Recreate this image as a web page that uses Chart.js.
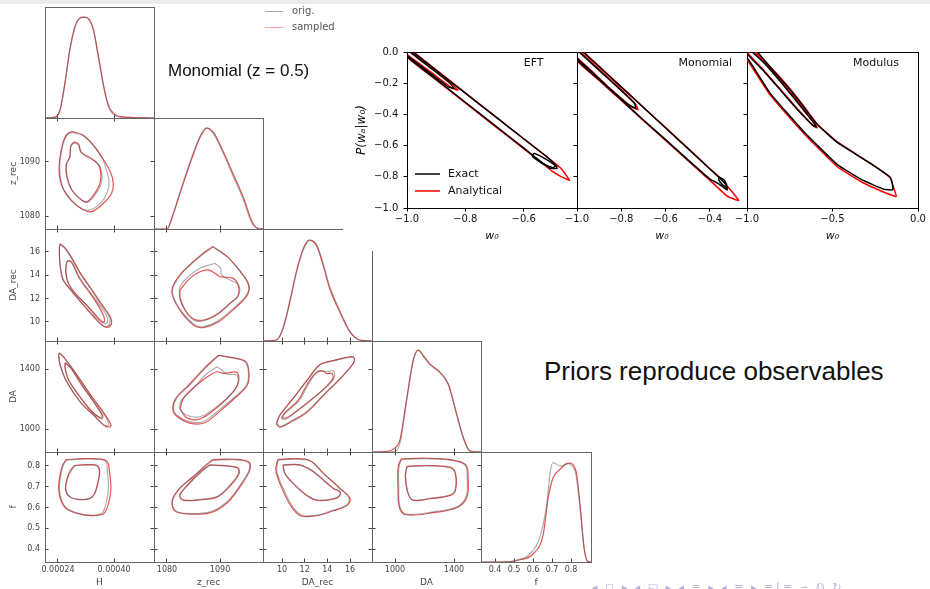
<!DOCTYPE html>
<html>
<head>
<meta charset="utf-8">
<script src="https://cdn.jsdelivr.net/npm/chart.js@4.4.0/dist/chart.umd.min.js"></script>
<style>
body { margin: 0; width: 930px; height: 589px; background: #fff; position: relative; overflow: hidden; font-family: "DejaVu Sans", sans-serif; }
canvas { position: absolute; }
.txt { position: absolute; white-space: nowrap; }
.ln { position: absolute; height: 0; }
</style>
</head>
<body>
<div style="position:absolute;left:0;top:0;width:930px;height:4px;background:#ececec"></div>
<script>
// ---- corner plot: parameters, axis ranges and ticks ----
const names = ['H', 'z_rec', 'DA_rec', 'DA', 'f'];
const xRanges = [[0.000203, 0.000514], [1077.55, 1098.1], [8.32, 17.94], [844, 1583], [0.326, 0.905]];
const yRanges = [null, [1077.6, 1098.1], [8.37, 17.97], [847, 1587], [0.3375, 0.867]];
const xTicks = [[0.00024, 0.00040], [1080, 1090], [10, 12, 14, 16], [1000, 1400], [0.4, 0.5, 0.6, 0.7, 0.8]];
const yTicks = [null, [1080, 1090], [10, 12, 14, 16], [1000, 1400], [0.4, 0.5, 0.6, 0.7, 0.8]];
const diagTop = [1.10, 1.10, 1.11, 1.09, 1.107];

// diagonal densities (x, y pairs)
const diagH_orig = [0.000203,0, 0.000232,0.007, 0.000246,0.079, 0.000260,0.344, 0.000274,0.675, 0.000289,0.907, 0.000303,0.990, 0.000314,1.0, 0.000327,0.980, 0.000341,0.874, 0.000355,0.609, 0.000370,0.311, 0.000384,0.113, 0.000403,0.025, 0.000436,0.004, 0.000514,0];
const diagH_samp = [0.000203,0, 0.000232,0.008, 0.000246,0.082, 0.000260,0.35, 0.000274,0.68, 0.000289,0.91, 0.000303,0.992, 0.000314,1.0, 0.000327,0.985, 0.000341,0.88, 0.000355,0.62, 0.000370,0.325, 0.000384,0.125, 0.000403,0.035, 0.000436,0.008, 0.000514,0];
const diagZ_orig = [1077.5,0, 1080.0,0, 1081.2,0.158, 1082.8,0.422, 1084.7,0.719, 1086.2,0.917, 1087.4,1.0, 1088.7,0.950, 1090.3,0.785, 1092.5,0.521, 1094.4,0.290, 1096.0,0.059, 1097.0,0.007, 1098.2,0];
const diagZ_samp = [1077.5,0, 1080.0,0, 1081.2,0.150, 1082.8,0.41, 1084.7,0.70, 1086.2,0.905, 1087.5,1.0, 1088.8,0.955, 1090.4,0.79, 1092.6,0.53, 1094.5,0.30, 1096.1,0.065, 1097.1,0.008, 1098.2,0];
const diagDAr_orig = [8.35,0, 9.53,0.010, 10.11,0.125, 10.70,0.389, 11.29,0.686, 11.87,0.901, 12.47,1.0, 13.06,0.955, 13.64,0.765, 14.23,0.535, 15.11,0.30, 15.99,0.095, 16.87,0.010, 17.96,0];
const diagDAr_samp = [8.35,0, 9.53,0.012, 10.11,0.135, 10.70,0.40, 11.29,0.70, 11.87,0.915, 12.40,1.0, 13.06,0.94, 13.64,0.745, 14.23,0.51, 15.11,0.285, 15.99,0.09, 16.87,0.010, 17.96,0];
const diagDA_orig = [846,0, 988,0.005, 1034,0.09, 1079,0.505, 1124,0.901, 1158,1.0, 1192,0.950, 1237,0.868, 1305,0.785, 1361,0.670, 1418,0.373, 1463,0.142, 1508,0.010, 1585,0];
const diagDA_samp = [846,0, 960,0.01, 1000,0.04, 1034,0.12, 1079,0.52, 1124,0.905, 1158,1.0, 1192,0.94, 1237,0.86, 1305,0.78, 1361,0.665, 1418,0.37, 1463,0.14, 1508,0.010, 1585,0];
const diagF_orig = [0.3276,0, 0.426,0, 0.514,0.017, 0.584,0.083, 0.636,0.25, 0.672,0.583, 0.690,0.90, 0.705,1.0, 0.745,0.965, 0.785,0.99, 0.800,0.975, 0.826,0.88, 0.847,0.55, 0.868,0.15, 0.887,0.007, 0.905,0];
const diagF_samp = [0.3276,0, 0.426,0, 0.531,0.023, 0.601,0.083, 0.654,0.283, 0.680,0.65, 0.706,0.85, 0.742,0.933, 0.777,0.99, 0.790,0.995, 0.826,0.917, 0.847,0.583, 0.868,0.15, 0.887,0.007, 0.905,0];

// 2D contours (x, y pairs), 95% and 68% levels
// z_rec vs H
const zH_orig95 = [0.000279,1095.45, 0.000308,1094.95, 0.000336,1093.4, 0.000365,1090.9, 0.000380,1088.1, 0.000386,1086.1, 0.000381,1084.5, 0.000365,1082.6, 0.000332,1081.1, 0.000308,1081.4, 0.000279,1082.9, 0.000255,1085.1, 0.000246,1087.6, 0.000246,1090.3, 0.000255,1093.4, 0.000265,1094.95];
const zH_samp95 = [0.000281,1095.6, 0.000310,1095.0, 0.000338,1093.3, 0.000367,1090.7, 0.000390,1088.1, 0.000398,1086.0, 0.000393,1084.2, 0.000369,1082.3, 0.000336,1080.8, 0.000310,1081.2, 0.000279,1082.8, 0.000254,1085.1, 0.000244,1087.6, 0.000245,1090.4, 0.000254,1093.5, 0.000266,1095.1];
const zH_orig68 = [0.000286,1093.5, 0.000298,1093.1, 0.000308,1091.6, 0.000341,1090.3, 0.000360,1089.1, 0.000365,1086.6, 0.000355,1084.8, 0.000327,1082.6, 0.000308,1082.9, 0.000279,1084.8, 0.000265,1087.2, 0.000263,1089.4, 0.000274,1090.9, 0.000276,1092.8];
const zH_samp68 = [0.000287,1093.7, 0.000299,1093.3, 0.000306,1091.8, 0.000338,1090.5, 0.000358,1089.2, 0.000362,1086.7, 0.000352,1084.9, 0.000325,1082.7, 0.000306,1083.0, 0.000279,1084.9, 0.000266,1087.3, 0.000264,1089.5, 0.000274,1091.0, 0.000277,1093.0];
// DA_rec vs H
const drH_orig95 = [0.000246,16.66, 0.000260,16.32, 0.000279,15.46, 0.000303,14.17, 0.000332,12.89, 0.000360,11.60, 0.000384,10.60, 0.000389,10.03, 0.000379,9.60, 0.000365,9.74, 0.000341,10.45, 0.000312,11.46, 0.000280,12.60, 0.000255,13.60, 0.000246,14.88, 0.000244,16.3];
const drH_samp95 = [0.000246,16.70, 0.000260,16.35, 0.000280,15.45, 0.000305,14.15, 0.000335,12.85, 0.000364,11.55, 0.000388,10.50, 0.000393,9.90, 0.000383,9.55, 0.000368,9.70, 0.000343,10.45, 0.000312,11.48, 0.000280,12.62, 0.000255,13.62, 0.000246,14.90, 0.000244,16.32];
const drH_orig68 = [0.000268,15.31, 0.000279,15.17, 0.000303,13.74, 0.000327,12.74, 0.000355,11.60, 0.000378,10.60, 0.000382,10.03, 0.000374,9.85, 0.000357,10.32, 0.000322,11.46, 0.000289,12.46, 0.000270,13.32, 0.000263,14.31, 0.000265,15.10];
const drH_samp68 = [0.000268,15.25, 0.000279,15.10, 0.000302,13.70, 0.000326,12.70, 0.000352,11.55, 0.000370,10.55, 0.000373,10.10, 0.000366,9.98, 0.000352,10.38, 0.000320,11.50, 0.000288,12.50, 0.000269,13.35, 0.000262,14.33, 0.000264,15.05];
// DA vs H
const daH_orig95 = [0.000244,1505, 0.000255,1482, 0.000294,1360, 0.000332,1227, 0.000370,1105, 0.000385,1038, 0.000384,1022, 0.000370,1027, 0.000341,1093, 0.000303,1182, 0.000265,1316, 0.000246,1427, 0.000242,1494];
const daH_samp95 = [0.000244,1508, 0.000256,1482, 0.000295,1358, 0.000334,1224, 0.000373,1100, 0.000391,1032, 0.000389,1015, 0.000374,1022, 0.000343,1090, 0.000304,1180, 0.000265,1315, 0.000246,1428, 0.000242,1496];
const daH_orig68 = [0.000260,1445, 0.000274,1416, 0.000308,1293, 0.000341,1182, 0.000365,1093, 0.000360,1076, 0.000332,1127, 0.000298,1227, 0.000270,1327, 0.000260,1405];
const daH_samp68 = [0.000261,1440, 0.000275,1412, 0.000309,1290, 0.000343,1178, 0.000368,1088, 0.000364,1070, 0.000335,1122, 0.000300,1224, 0.000271,1325, 0.000261,1402];
// f vs H
const fH_orig95 = [0.000265,0.828, 0.000312,0.833, 0.000360,0.832, 0.000377,0.820, 0.000381,0.772, 0.000384,0.692, 0.000377,0.620, 0.000365,0.572, 0.000332,0.563, 0.000298,0.572, 0.000265,0.596, 0.000250,0.636, 0.000244,0.692, 0.000248,0.756, 0.000255,0.804];
const fH_samp95 = [0.000263,0.830, 0.000312,0.835, 0.000362,0.833, 0.000381,0.820, 0.000387,0.772, 0.000391,0.692, 0.000384,0.618, 0.000370,0.570, 0.000334,0.561, 0.000298,0.570, 0.000264,0.594, 0.000248,0.636, 0.000242,0.692, 0.000246,0.758, 0.000254,0.806];
const fH_orig68 = [0.000289,0.801, 0.000322,0.804, 0.000351,0.801, 0.000358,0.772, 0.000355,0.724, 0.000346,0.668, 0.000332,0.644, 0.000303,0.639, 0.000274,0.652, 0.000263,0.684, 0.000265,0.724, 0.000276,0.772];
const fH_samp68 = [0.000287,0.803, 0.000321,0.806, 0.000352,0.802, 0.000359,0.772, 0.000354,0.722, 0.000344,0.666, 0.000330,0.643, 0.000302,0.638, 0.000274,0.651, 0.000262,0.684, 0.000264,0.726, 0.000274,0.774];
// DA_rec vs z_rec
const drZ_orig95 = [1088.7,16.45, 1091.3,15.6, 1093.8,14.31, 1095.35,13.17, 1095.0,12.31, 1092.5,11.17, 1089.4,10.03, 1086.85,9.6, 1085.3,9.74, 1082.8,10.88, 1081.2,12.17, 1081.2,13.02, 1083.1,14.31, 1086.2,15.6];
const drZ_samp95 = [1088.6,16.48, 1091.3,15.62, 1093.9,14.3, 1095.45,13.15, 1095.1,12.28, 1092.6,11.1, 1089.5,9.95, 1086.9,9.52, 1085.2,9.68, 1082.7,10.85, 1081.1,12.17, 1081.1,13.05, 1083.0,14.33, 1086.1,15.62];
const drZ_orig68 = [1089.06,15.03, 1090.1,14.6, 1090.3,14.03, 1091.9,13.6, 1093.5,13.17, 1093.5,12.31, 1091.9,11.6, 1089.4,10.6, 1086.85,10.09, 1084.97,10.17, 1083.4,11.03, 1082.46,12.17, 1082.46,13.02, 1084.0,13.88, 1086.2,14.6];
const drZ_samp68 = [1082.46,12.74, 1084.3,13.74, 1086.2,14.31, 1087.8,14.46, 1089.06,14.17, 1090.0,13.88, 1092.5,13.74, 1093.5,13.02, 1093.3,12.17, 1091.9,11.6, 1089.4,10.66, 1087.0,10.17, 1085.0,10.26, 1083.4,11.03, 1082.46,11.97];
// DA vs z_rec
const daZ_orig95 = [1089.7,1489, 1092.5,1472, 1094.7,1449, 1095.35,1382, 1095.0,1294, 1092.5,1205, 1089.4,1116, 1086.85,1049, 1084.3,1049, 1081.8,1094, 1081.2,1138, 1081.8,1205, 1084.3,1294, 1087.2,1405];
const daZ_samp95 = [1089.7,1492, 1092.6,1475, 1094.8,1450, 1095.45,1380, 1095.1,1290, 1092.6,1200, 1089.6,1108, 1087.0,1040, 1084.3,1040, 1081.7,1090, 1081.1,1138, 1081.7,1207, 1084.2,1297, 1087.1,1408];
const daZ_orig68 = [1089.4,1416, 1090.3,1394, 1091.3,1365, 1093.15,1360, 1093.3,1294, 1091.9,1227, 1089.4,1149, 1086.2,1082, 1083.7,1094, 1082.46,1138, 1082.8,1194, 1085.0,1272, 1087.2,1360];
const daZ_samp68 = [1082.46,1134, 1083.1,1205, 1085.6,1294, 1088.1,1360, 1089.4,1382, 1090.6,1371, 1093.15,1378, 1093.5,1320, 1092.5,1249, 1090.0,1160, 1086.2,1067, 1083.7,1076];
// f vs z_rec
const fZ_orig95 = [1088.7,0.828, 1092.5,0.830, 1095.35,0.817, 1095.5,0.780, 1093.8,0.708, 1091.3,0.627, 1088.1,0.579, 1083.7,0.571, 1081.5,0.587, 1081.1,0.636, 1082.46,0.692, 1085.0,0.748, 1087.5,0.804];
const fZ_samp95 = [1088.6,0.830, 1092.5,0.832, 1095.45,0.819, 1095.6,0.780, 1093.9,0.705, 1091.4,0.624, 1088.2,0.575, 1083.7,0.569, 1081.4,0.585, 1081.0,0.636, 1082.4,0.693, 1085.0,0.750, 1087.4,0.806];
const fZ_orig68 = [1088.1,0.804, 1093.15,0.791, 1093.5,0.764, 1091.9,0.708, 1089.4,0.652, 1086.2,0.639, 1083.1,0.636, 1082.46,0.660, 1083.7,0.700, 1086.2,0.764];
const fZ_samp68 = [1088.0,0.805, 1093.2,0.793, 1093.6,0.765, 1092.0,0.707, 1089.5,0.651, 1086.2,0.637, 1083.0,0.635, 1082.4,0.660, 1083.6,0.701, 1086.1,0.766];
// DA vs DA_rec
const daDr_orig95 = [9.53,1038, 9.82,1094, 10.99,1205, 12.47,1349, 13.35,1427, 14.52,1454, 16.23,1480, 16.35,1449, 15.40,1360, 13.64,1227, 12.17,1116, 10.70,1049, 9.82,1016];
const daDr_samp95 = [9.50,1035, 9.80,1092, 10.97,1204, 12.45,1350, 13.33,1429, 14.52,1456, 16.25,1483, 16.38,1450, 15.42,1358, 13.66,1224, 12.20,1112, 10.72,1044, 9.80,1012];
const daDr_orig68 = [9.97,1067, 10.26,1105, 11.43,1182, 12.47,1316, 13.2,1389, 13.94,1382, 14.52,1389, 14.61,1342, 14.08,1294, 12.91,1216, 11.58,1138, 10.41,1067];
const daDr_samp68 = [9.95,1075, 10.26,1110, 11.40,1190, 12.40,1322, 13.1,1378, 13.7,1385, 13.95,1370, 14.4,1372, 14.5,1340, 14.0,1290, 12.85,1212, 11.55,1134, 10.4,1075];
// f vs DA_rec
const fDr_orig95 = [9.67,0.828, 10.99,0.833, 12.47,0.824, 13.64,0.764, 15.11,0.692, 15.93,0.644, 15.70,0.612, 14.52,0.587, 13.06,0.563, 11.73,0.563, 10.85,0.612, 9.97,0.708, 9.53,0.780];
const fDr_samp95 = [9.62,0.830, 10.99,0.835, 12.5,0.825, 13.66,0.764, 15.15,0.690, 16.0,0.644, 15.75,0.610, 14.52,0.584, 13.0,0.560, 11.65,0.560, 10.75,0.610, 9.85,0.710, 9.45,0.782];
const fDr_orig68 = [10.11,0.804, 11.58,0.804, 12.76,0.772, 14.52,0.692, 15.11,0.676, 14.96,0.652, 14.23,0.639, 13.06,0.636, 12.17,0.660, 10.99,0.716, 10.26,0.764];
const fDr_samp68 = [10.08,0.805, 11.58,0.805, 12.78,0.772, 14.55,0.690, 15.15,0.674, 14.98,0.650, 14.23,0.637, 13.05,0.635, 12.15,0.659, 10.97,0.716, 10.24,0.765];
// f vs DA
const fDa_orig95 = [1045,0.832, 1215,0.835, 1373,0.828, 1475,0.804, 1490,0.732, 1481,0.652, 1418,0.603, 1260,0.579, 1079,0.568, 1034,0.603, 1025,0.700, 1027,0.796];
const fDa_samp95 = [1042,0.834, 1215,0.837, 1375,0.830, 1480,0.805, 1496,0.732, 1488,0.650, 1422,0.600, 1260,0.575, 1075,0.565, 1030,0.600, 1020,0.700, 1022,0.798];
const fDa_orig68 = [1079,0.796, 1215,0.800, 1373,0.791, 1407,0.764, 1407,0.684, 1373,0.660, 1237,0.644, 1124,0.636, 1090,0.668, 1072,0.748];
const fDa_samp68 = [1082,0.798, 1215,0.802, 1375,0.793, 1410,0.764, 1410,0.684, 1375,0.658, 1237,0.642, 1124,0.634, 1088,0.668, 1070,0.748];

// ---- right-hand figure: P(wa|w0) contours ----
const trTags = ['EFT', 'Monomial', 'Modulus'];
const trXRanges = [[-1.0, -0.417], [-1.0, -0.2325], [-1.0, 0.0]];
const trXTicks = [[-1.0, -0.8, -0.6], [-1.0, -0.8, -0.6, -0.4], [-1.0, -0.5, 0.0]];
const trYTicks = [-1.0, -0.8, -0.6, -0.4, -0.2, 0.0];

const eft_red95 = [-1.0,0.034, -0.9,-0.115, -0.8,-0.262, -0.7,-0.409, -0.6,-0.556, -0.5,-0.703, -0.47,-0.75, -0.443,-0.822, -0.47,-0.80, -0.5,-0.767, -0.6,-0.62, -0.7,-0.473, -0.8,-0.326, -0.9,-0.179, -1.0,-0.032];
const eft_black95 = [-1.0,0.03, -0.9,-0.117, -0.8,-0.264, -0.7,-0.41, -0.6,-0.556, -0.52,-0.672, -0.49,-0.725, -0.485,-0.745, -0.51,-0.745, -0.6,-0.615, -0.7,-0.468, -0.8,-0.322, -0.9,-0.175, -1.0,-0.028];
const eft_red68 = [-1.0,0.02, -0.95,-0.05, -0.9,-0.122, -0.85,-0.195, -0.825,-0.245, -0.85,-0.225, -0.9,-0.155, -0.95,-0.085, -1.0,-0.015];
const eft_black68 = [-1.0,0.015, -0.95,-0.058, -0.9,-0.13, -0.85,-0.205, -0.838,-0.235, -0.86,-0.222, -0.9,-0.165, -0.95,-0.092, -1.0,-0.02];
const eft_black68b = [-0.565,-0.648, -0.53,-0.68, -0.49,-0.73, -0.5,-0.742, -0.54,-0.71, -0.57,-0.668];

const mono_red95 = [-1.0,0.04, -0.9,-0.092, -0.8,-0.223, -0.7,-0.354, -0.6,-0.485, -0.5,-0.616, -0.4,-0.748, -0.345,-0.82, -0.27,-0.951, -0.32,-0.926, -0.4,-0.823, -0.5,-0.695, -0.6,-0.567, -0.7,-0.44, -0.8,-0.31, -0.9,-0.183, -1.0,-0.055];
const mono_black95 = [-1.0,0.035, -0.9,-0.095, -0.8,-0.225, -0.7,-0.356, -0.6,-0.487, -0.5,-0.618, -0.4,-0.75, -0.35,-0.815, -0.33,-0.845, -0.322,-0.885, -0.36,-0.845, -0.4,-0.815, -0.5,-0.69, -0.6,-0.562, -0.7,-0.436, -0.8,-0.306, -0.9,-0.178, -1.0,-0.05];
const mono_red68 = [-1.0,0.02, -0.9,-0.11, -0.8,-0.24, -0.735,-0.335, -0.725,-0.37, -0.76,-0.345, -0.85,-0.235, -0.95,-0.1, -1.0,-0.035];
const mono_black68 = [-1.0,0.012, -0.9,-0.118, -0.8,-0.248, -0.74,-0.33, -0.735,-0.36, -0.77,-0.335, -0.86,-0.225, -0.95,-0.105, -1.0,-0.04];
const mono_black68b = [-0.36,-0.80, -0.335,-0.82, -0.32,-0.87, -0.34,-0.855, -0.36,-0.82];

const mod_red95 = [-0.98,0.04, -0.951,0.0, -0.85,-0.11, -0.766,-0.213, -0.68,-0.33, -0.591,-0.46, -0.474,-0.575, -0.279,-0.713, -0.162,-0.808, -0.142,-0.872, -0.127,-0.926, -0.188,-0.904, -0.335,-0.83, -0.474,-0.734, -0.669,-0.521, -0.864,-0.276, -0.99,-0.064, -1.02,-0.02];
const mod_black95 = [-0.99,0.03, -0.94,0.0, -0.85,-0.115, -0.766,-0.218, -0.68,-0.335, -0.59,-0.463, -0.474,-0.578, -0.279,-0.714, -0.165,-0.80, -0.152,-0.835, -0.148,-0.883, -0.2,-0.88, -0.335,-0.815, -0.474,-0.72, -0.669,-0.51, -0.864,-0.265, -0.99,-0.05, -1.02,-0.01];
const mod_red68 = [-0.99,0.04, -0.9,-0.06, -0.8,-0.185, -0.7,-0.32, -0.62,-0.43, -0.59,-0.485, -0.61,-0.475, -0.7,-0.37, -0.8,-0.245, -0.9,-0.12, -1.0,0.0];
const mod_black68 = [-1.0,0.03, -0.9,-0.07, -0.8,-0.195, -0.7,-0.33, -0.62,-0.44, -0.595,-0.48, -0.615,-0.47, -0.7,-0.375, -0.8,-0.25, -0.9,-0.125, -1.0,-0.01];

// ---- layout ----
const colL = [45, 154, 263, 372, 481];
const colR = [154, 263, 372, 481, 591];
const rowT = [7, 118, 229, 341, 452];
const rowB = [118, 229, 341, 452, 562];
const trL = [407, 577, 747];
const trR = [577, 747, 918];
const M = 16;

const ORIG = 'rgba(95,95,95,0.5)';
const SAMP = 'rgba(225,40,40,0.8)';

Chart.defaults.font.family = "'DejaVu Sans', sans-serif";
Chart.defaults.animation = false;

const plain = v => String(v);
const xFmt = [v => v.toFixed(5), plain, plain, plain, plain];
const minus = v => (v < 0 ? '\u2212' : '') + Math.abs(v).toFixed(1);

function pts(a) {
  const o = [];
  for (let i = 0; i < a.length; i += 2) o.push({x: a[i], y: a[i + 1]});
  return o;
}
function loop(a) { const o = pts(a); o.push(o[0]); return o; }

function place(x, y, w, h) {
  const c = document.createElement('canvas');
  c.width = w; c.height = h;
  c.style.left = x + 'px'; c.style.top = y + 'px';
  c.style.width = w + 'px'; c.style.height = h + 'px';
  document.body.appendChild(c);
  return c;
}

function mkScale(o) {
  return {
    type: 'linear', axis: o.axis, position: o.pos, min: o.range[0], max: o.range[1],
    afterBuildTicks: s => { s.ticks = (o.vals || []).map(v => ({value: v})); },
    afterFit: s => { if (o.axis === 'x') s.height = o.size || 0; else s.width = o.size || 0; },
    grid: {display: true, drawOnChartArea: false, drawTicks: !!o.vals, tickLength: o.tl, color: o.tc, tickColor: o.tc, lineWidth: 1},
    border: {display: true, color: o.bc, width: 1},
    ticks: {display: !!o.labels, autoSkip: false, maxRotation: 0, padding: o.pad || 0, color: o.lc, font: {size: o.fs}, callback: o.fmt || plain},
    title: {display: !!o.title, text: o.title || '', color: o.lc, font: o.tfont || {size: 9}, padding: o.tpad || 0}
  };
}

function line(data, color, width, extra) {
  return Object.assign({data, showLine: true, borderColor: color, borderWidth: width, pointRadius: 0, fill: false, clip: 0}, extra || {});
}

function cornerPanel(r, c, datasets) {
  const diag = r === c, ls = c === 0 ? 45 : 0, bs = r === 4 ? 27 : 0;
  const L = colL[c], T = rowT[r], W = colR[c] - L, H = rowB[r] - T;
  const cv = place(L - M - ls, T - M, W + 2 * M + ls, H + 2 * M + bs);
  const base = {tl: -3.5, tc: '#444', bc: '#666', lc: '#444', fs: 8};
  const yr = diag ? [0, diagTop[c]] : yRanges[r];
  const yv = diag ? null : yTicks[r];
  new Chart(cv, {
    type: 'scatter',
    data: {datasets},
    options: {
      responsive: false, events: [],
      layout: {padding: M},
      plugins: {legend: {display: false}, tooltip: {enabled: false}},
      scales: {
        x: mkScale(Object.assign({}, base, {axis: 'x', pos: 'bottom', range: xRanges[c], vals: xTicks[c], labels: r === 4, size: bs, pad: 6.5, fmt: xFmt[c],
          title: r === 4 ? names[c] : '', tpad: {top: 0, bottom: 1}})),
        x2: mkScale(Object.assign({}, base, {axis: 'x', pos: 'top', range: xRanges[c], vals: diag ? null : xTicks[c], size: 0})),
        y: mkScale(Object.assign({}, base, {axis: 'y', pos: 'left', range: yr, vals: yv, labels: c === 0 && !diag, size: ls, pad: 8.5,
          title: c === 0 && !diag ? names[r] : '', tpad: {top: 8, bottom: 0}})),
        y2: mkScale(Object.assign({}, base, {axis: 'y', pos: 'right', range: yr, vals: yv, size: 0}))
      }
    }
  });
}

function diagSets(o, s) {
  return [
    line(pts(o), ORIG, 1.2, {cubicInterpolationMode: 'monotone'}),
    line(pts(s), SAMP, 1.2, {cubicInterpolationMode: 'monotone'})
  ];
}
function contourSets(o95, o68, s95, s68) {
  const t = {tension: 0.35};
  return [
    line(loop(o95), ORIG, 1.2, t), line(loop(o68), ORIG, 1.2, t),
    line(loop(s95), SAMP, 1.2, t), line(loop(s68), SAMP, 1.2, t)
  ];
}

cornerPanel(0, 0, diagSets(diagH_orig, diagH_samp));
cornerPanel(1, 1, diagSets(diagZ_orig, diagZ_samp));
cornerPanel(2, 2, diagSets(diagDAr_orig, diagDAr_samp));
cornerPanel(3, 3, diagSets(diagDA_orig, diagDA_samp));
cornerPanel(4, 4, diagSets(diagF_orig, diagF_samp));
cornerPanel(1, 0, contourSets(zH_orig95, zH_orig68, zH_samp95, zH_samp68));
cornerPanel(2, 0, contourSets(drH_orig95, drH_orig68, drH_samp95, drH_samp68));
cornerPanel(3, 0, contourSets(daH_orig95, daH_orig68, daH_samp95, daH_samp68));
cornerPanel(4, 0, contourSets(fH_orig95, fH_orig68, fH_samp95, fH_samp68));
cornerPanel(2, 1, contourSets(drZ_orig95, drZ_orig68, drZ_samp95, drZ_samp68));
cornerPanel(3, 1, contourSets(daZ_orig95, daZ_orig68, daZ_samp95, daZ_samp68));
cornerPanel(4, 1, contourSets(fZ_orig95, fZ_orig68, fZ_samp95, fZ_samp68));
cornerPanel(3, 2, contourSets(daDr_orig95, daDr_orig68, daDr_samp95, daDr_samp68));
cornerPanel(4, 2, contourSets(fDr_orig95, fDr_orig68, fDr_samp95, fDr_samp68));
cornerPanel(4, 3, contourSets(fDa_orig95, fDa_orig68, fDa_samp95, fDa_samp68));

// the right-hand figure sits on a white background that hides a bit of the corner frame
const patch = document.createElement('div');
patch.style.cssText = 'position:absolute;left:343px;top:227px;width:40px;height:24px;background:#fff';
document.body.appendChild(patch);

// tag text and inner legend for the right-hand panels
const panelText = {
  id: 'panelText',
  afterDraw(chart, args, o) {
    const a = chart.chartArea, ctx = chart.ctx;
    ctx.save();
    ctx.font = "11px 'DejaVu Sans'";
    ctx.fillStyle = '#111';
    ctx.textBaseline = 'middle';
    ctx.textAlign = 'right';
    ctx.fillText(o.tag, a.right - o.tagRight, a.top + 11.5);
    if (o.legend) {
      ctx.textAlign = 'left';
      chart.data.datasets.filter(d => d.label).forEach((d, i) => {
        const y = a.bottom - 34 + i * 17;
        ctx.strokeStyle = d.borderColor; ctx.lineWidth = 1.5;
        ctx.beginPath(); ctx.moveTo(a.left + 8, y); ctx.lineTo(a.left + 33, y); ctx.stroke();
        ctx.fillText(d.label, a.left + 41, y);
      });
    }
    ctx.restore();
  }
};

function trPanel(i, sets) {
  const L = trL[i], R = trR[i], T = 52, B = 208;
  const ls = i === 0 ? 61 : 0, bs = 36;
  const cv = place(L - M - ls, T - M, R - L + 2 * M + ls, B - T + 2 * M + bs);
  const base = {tl: 3.5, tc: '#000', bc: '#000', lc: '#111', fs: 10};
  const yr = [-1.0, 0.0];
  const t = {tension: 0.12};
  const datasets = [];
  sets.black.forEach((s, k) => datasets.push(line(loop(s), '#000', 1.5, Object.assign({label: k === 0 ? 'Exact' : ''}, t))));
  sets.red.forEach((s, k) => datasets.push(line(loop(s), '#ff0000', 1.5, Object.assign({label: k === 0 ? 'Analytical' : ''}, t))));
  new Chart(cv, {
    type: 'scatter',
    data: {datasets},
    plugins: [panelText],
    options: {
      responsive: false, events: [],
      layout: {padding: M},
      plugins: {legend: {display: false}, tooltip: {enabled: false},
        panelText: {tag: trTags[i], tagRight: [33.5, 15, 19][i], legend: i === 0}},
      scales: {
        x: mkScale(Object.assign({}, base, {axis: 'x', pos: 'bottom', range: trXRanges[i], vals: trXTicks[i], labels: true, size: bs, pad: 2, fmt: minus,
          title: 'w\u2080', tfont: {size: 11, style: 'italic'}, tpad: {top: 0, bottom: 0.8}})),
        x2: mkScale(Object.assign({}, base, {axis: 'x', pos: 'top', range: trXRanges[i], vals: null, size: 0})),
        y: mkScale(Object.assign({}, base, {axis: 'y', pos: 'left', range: yr, vals: trYTicks, labels: i === 0, size: ls, pad: 5.2, fmt: minus,
          title: i === 0 ? 'P(w\u2090|w\u2080)' : '', tfont: {size: 12, style: 'italic'}, tpad: {top: 8.5, bottom: 0}})),
        y2: mkScale(Object.assign({}, base, {axis: 'y', pos: 'right', range: yr, vals: null, size: 0}))
      }
    }
  });
}

trPanel(0, {black: [eft_black95, eft_black68, eft_black68b], red: [eft_red95, eft_red68]});
trPanel(1, {black: [mono_black95, mono_black68, mono_black68b], red: [mono_red95, mono_red68]});
trPanel(2, {black: [mod_black95, mod_black68], red: [mod_red95, mod_red68]});
</script>

<div class="ln" style="left:265px;top:11px;width:18px;border-top:1px solid #a8a8a8"></div>
<div class="txt" style="left:292px;top:5px;font-size:10px;line-height:12px;color:#555">orig.</div>
<div class="ln" style="left:265px;top:27px;width:18px;border-top:1px solid #f4a0a0"></div>
<div class="txt" style="left:292px;top:21px;font-size:10px;line-height:12px;color:#555">sampled</div>

<div class="txt" style="left:168px;top:62px;font-family:'Liberation Sans';font-size:17px;line-height:17px;color:#111">Monomial (z = 0.5)</div>
<div class="txt" style="left:544px;top:358px;font-family:'Liberation Sans';font-size:26px;line-height:26px;color:#111">Priors reproduce observables</div>
<div class="txt" style="left:592px;top:582px;font-size:11px;line-height:12px;color:#b4b4dc;letter-spacing:2px">◂ ◻ ▸ ◂ ◱ ▸ ◂ ≡ ▸ ◂ ≡ ▸ ≡∣≡ ∽ ℚ ↻</div>
</body>
</html>
